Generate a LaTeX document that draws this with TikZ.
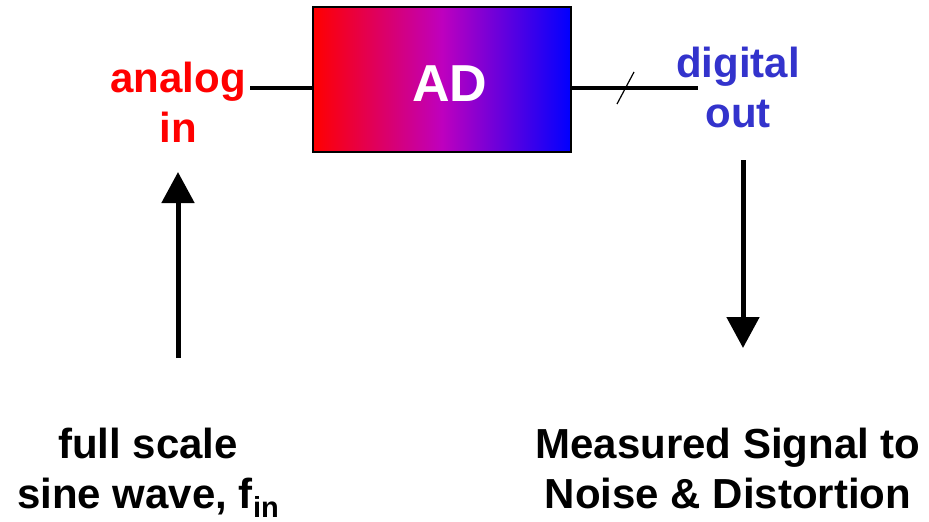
\documentclass[tikz,border=0pt]{standalone}
\usepackage{fontspec}
\setmainfont{Liberation Sans}
\usetikzlibrary{arrows.meta}
\definecolor{inred}{RGB}{255,0,0}
\definecolor{outblue}{RGB}{51,51,204}
\definecolor{midmag}{RGB}{190,0,190}
\begin{document}
\begin{tikzpicture}[x=1pt,y=-1pt,
  lbl/.style={font=\fontsize{42}{42}\selectfont\bfseries, anchor=base, inner sep=0pt},
  wire/.style={line width=4pt},
  bigarrow/.style={line width=5pt, -{Triangle[width=32pt,length=31pt]}}]
\useasboundingbox (0,0) rectangle (929,522);
% converter box
\node[draw=black, line width=2pt, left color=inred, right color=blue, middle color=midmag,
      minimum width=258pt, minimum height=145pt, inner sep=0pt]
  (adbox) at (442,79.5) {};
\node[text=white, font=\fontsize{52}{52}\selectfont\bfseries, inner sep=0pt, anchor=base]
  (adlabel) at (450,101) {AD};
% labels
\node[lbl, text=inred] (analog) at (178,92) {analog};
\node[lbl, text=inred] (in) at (178,142) {in};
\node[lbl, text=outblue] (digital) at (738,77) {digital};
\node[lbl, text=outblue] (out) at (738,127) {out};
\node[lbl] (full) at (148,458) {full scale};
\node[lbl] (sine) at (148,508) {sine wave, f\raisebox{-0.22em}{\fontsize{29}{29}\selectfont in}};
\node[lbl] (meas) at (728,458) {Measured Signal to};
\node[lbl] (noise) at (728,508) {Noise \& Distortion};
% wires
\coordinate (inwire) at (250,88);
\coordinate (outwire) at (698,88);
\draw[wire] (inwire) -- (inwire -| adbox.west);
\draw[wire] (adbox.east |- outwire) -- (outwire);
\coordinate (slashA) at (617,104);
\coordinate (slashB) at (634,72);
\draw[line width=1.2pt] (slashA) -- (slashB);
% arrows
\coordinate (upstart) at (178,358);
\coordinate (upend) at (178,172);
\coordinate (downstart) at (743,160);
\coordinate (downend) at (743,348);
\draw[bigarrow] (upstart) -- (upend);
\draw[bigarrow] (downstart) -- (downend);
\end{tikzpicture}
\end{document}
